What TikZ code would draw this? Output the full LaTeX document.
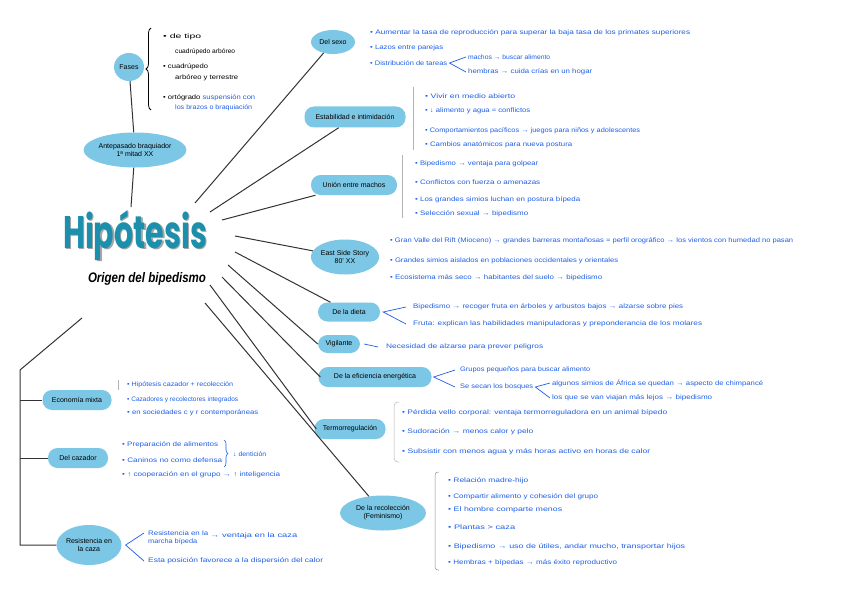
\documentclass[tikz,border=0pt]{standalone}
\usepackage{fontspec}
\setmainfont{Liberation Sans}
\newfontfamily\titlefont{Poppins}
\usepackage{graphicx}
\usetikzlibrary{shapes.geometric,decorations.pathreplacing}
\definecolor{nodeblue}{HTML}{7DC7E6}
\definecolor{txtblue}{HTML}{1F5FE6}
\definecolor{titleteal}{HTML}{1B8FAB}
\newcommand{\fitw}[2]{\resizebox{#1pt}{\height}{#2}}
\newcommand{\bul}{\textbullet\ }
\begin{document}
\begin{tikzpicture}[x=1pt,y=-1pt,
  pill/.style={fill=nodeblue, rounded corners=9.5pt, inner sep=0pt, font=\fontsize{7}{8}\selectfont, align=center},
  oval/.style={ellipse, fill=nodeblue, inner sep=0pt, font=\fontsize{7}{8}\selectfont, align=center},
  bt/.style={anchor=west, inner sep=0pt, text=txtblue, font=\fontsize{6.5}{7.5}\selectfont},
  kt/.style={anchor=west, inner sep=0pt, text=black, font=\fontsize{6.5}{7.5}\selectfont},
  link/.style={draw=black!80, line width=1pt},
  blink/.style={draw=txtblue, line width=0.7pt},
  brk/.style={draw=black!30, line width=0.5pt}]
\useasboundingbox[fill=white] (0,0) rectangle (848,599);

% ---------- title ----------
\node[text=black!35, anchor=base, inner sep=0pt] at (136.5,249.5) {\titlefont\bfseries\resizebox{144pt}{38pt}{Hipótesis}};
\node[text=titleteal, anchor=base, inner sep=0pt] (title) at (135,248) {\titlefont\bfseries\resizebox{144pt}{38pt}{Hipótesis}};
\node[anchor=base, inner sep=0pt] (subtitle) at (147,282) {\itshape\bfseries\resizebox{118pt}{10pt}{Origen del bipedismo}};

% ---------- upper left ----------
\node[oval, minimum width=30pt, minimum height=28pt] (fases) at (129,67) {Fases};
\node[oval, minimum width=96pt, minimum height=35pt] (ante) at (135,150) {Antepasado braquiador\\1ª mitad XX};
\coordinate (htop) at (131,207);
\draw[link] (fases) -- (ante);
\draw[link] (ante) -- (htop);
\coordinate (brA) at (151,110);
\coordinate (brB) at (151,28);
\draw[black, line width=0.8pt, decorate, decoration={brace, amplitude=5pt}] (brA) -- (brB);
\node[kt] (f1a) at (163,37) {\fitw{38}{\bul de tipo}};
\node[kt] (f1b) at (175,52) {\fitw{60}{cuadrúpedo arbóreo}};
\node[kt] (f2a) at (163,67) {\fitw{45}{\bul cuadrúpedo}};
\node[kt] (f2b) at (175,78) {\fitw{63}{arbóreo y terrestre}};
\node[kt] (f3a) at (163,98) {\fitw{92}{\bul ortógrado \textcolor{txtblue}{suspensión con}}};
\node[bt] (f3b) at (175,108) {\fitw{77}{los brazos o braquiación}};

% ---------- right branch nodes ----------
\node[oval, minimum width=44pt, minimum height=24pt] (sexo) at (333,42) {Del sexo};
\node[pill, minimum width=101pt, minimum height=21pt] (estab) at (355,117) {Estabilidad e intimidación};
\node[pill, minimum width=86pt, minimum height=20pt] (union) at (354,185) {Unión entre machos};
\node[oval, minimum width=64pt, minimum height=35pt] (east) at (345,257) {East Side Story\\80' XX};
\node[pill, minimum width=62pt, minimum height=19pt] (dieta) at (349,312) {De la dieta};
\node[pill, minimum width=42pt, minimum height=18pt] (vig) at (339,344) {Vigilante};
\node[pill, minimum width=113pt, minimum height=20pt] (efic) at (375,377) {De la eficiencia energética};
\node[pill, minimum width=71pt, minimum height=20pt] (termo) at (350,429) {Termorregulación};
\node[oval, minimum width=86pt, minimum height=35pt] (recol) at (383,513) {De la recolección\\(Feminismo)};

\coordinate (hsexo) at (195,203);
\coordinate (hestab) at (210,212);
\coordinate (hunion) at (222,220);
\coordinate (heast) at (235,236);
\coordinate (hdieta) at (235,252);
\coordinate (hvig) at (228,265);
\coordinate (hefic) at (222,277);
\coordinate (htermo) at (210,285);
\coordinate (hrecol) at (205,303);
\draw[link] (hsexo) -- (sexo);
\draw[link] (hestab) -- (estab);
\draw[link] (hunion) -- (union);
\draw[link] (heast) -- (east);
\draw[link] (hdieta) -- (dieta);
\draw[link] (hvig) -- (vig.west);
\draw[link] (hefic) -- ([xshift=2pt]efic.west);
\draw[link] (htermo) -- ([xshift=2pt]termo.west);
\draw[link] (hrecol) -- (recol);

% Del sexo
\node[bt] (s1) at (370,33) {\fitw{320}{\bul Aumentar la tasa de reproducción para superar la baja tasa de los primates superiores}};
\node[bt] (s2) at (370,48) {\fitw{73}{\bul Lazos entre parejas}};
\node[bt] (s3) at (370,63) {\fitw{77}{\bul Distribución de tareas}};
\node[bt] (s3a) at (468,57) {\fitw{82}{machos → buscar alimento}};
\node[bt] (s3b) at (468,72) {\fitw{124}{hembras → cuida crías en un hogar}};
\draw[blink] ([xshift=-2pt]s3a.west) -- ([xshift=2pt]s3.east) -- ([xshift=-2pt]s3b.west);

% Estabilidad
\coordinate (eb1) at (413,87); \coordinate (eb2) at (413,150);
\draw[brk] (eb1) -- (eb2);
\node[bt] (e1) at (425,96) {\fitw{90}{\bul Vivir en medio abierto}};
\node[bt] (e2) at (425,111) {\fitw{105}{\bul ↓ alimento y agua = conflictos}};
\node[bt] (e3) at (425,131) {\fitw{215}{\bul Comportamientos pacíficos → juegos para niños y adolescentes}};
\node[bt] (e4) at (425,145) {\fitw{147}{\bul Cambios anatómicos para nueva postura}};

% Union
\coordinate (ub1) at (402,155); \coordinate (ub2) at (402,218);
\draw[brk] (ub1) -- (ub2);
\node[bt] (u1) at (415,164) {\fitw{123}{\bul Bipedismo → ventaja para golpear}};
\node[bt] (u2) at (415,182) {\fitw{125}{\bul Conflictos con fuerza o amenazas}};
\node[bt] (u3) at (415,200) {\fitw{165}{\bul Los grandes simios luchan en postura bípeda}};
\node[bt] (u4) at (415,214) {\fitw{113}{\bul Selección sexual → bipedismo}};

% East side story
\node[bt] (es1) at (390,241) {\fitw{403}{\bul Gran Valle del Rift (Mioceno) → grandes barreras montañosas = perfil orográfico → los vientos con humedad no pasan}};
\node[bt] (es2) at (390,261) {\fitw{228}{\bul Grandes simios aislados en poblaciones occidentales y orientales}};
\node[bt] (es3) at (390,278) {\fitw{212}{\bul Ecosistema más seco → habitantes del suelo → bipedismo}};

% Dieta
\node[bt] (d1) at (413,307) {\fitw{270}{Bipedismo → recoger fruta en árboles y arbustos bajos → alzarse sobre pies}};
\node[bt] (d2) at (413,324) {\fitw{289}{Fruta: explican las habilidades manipuladoras y preponderancia de los molares}};
\draw[blink] ([xshift=-7pt]d1.west) -- ([xshift=3pt]dieta.east) -- ([xshift=-7pt]d2.west);

% Vigilante
\node[bt] (v1) at (386,347) {\fitw{157}{Necesidad de alzarse para prever peligros}};
\draw[blink] ([xshift=4pt]vig.east) -- ([xshift=-8pt]v1.west);

% Eficiencia
\node[bt] (ef1) at (460,370) {\fitw{130}{Grupos pequeños para buscar alimento}};
\node[bt] (ef2) at (460,387) {\fitw{73}{Se secan los bosques}};
\node[bt] (ef2a) at (552,383) {\fitw{211}{algunos simios de África se quedan → aspecto de chimpancé}};
\node[bt] (ef2b) at (552,398) {\fitw{160}{los que se van viajan más lejos → bipedismo}};
\draw[blink] ([xshift=-5pt]ef1.west) -- ([xshift=2pt]efic.east) -- ([xshift=-5pt]ef2.west);
\draw[blink] ([xshift=-2pt]ef2a.west) -- ([xshift=2pt]ef2.east) -- ([xshift=-2pt]ef2b.west);

% Termorregulacion
\coordinate (tb1) at (394,402); \coordinate (tb2) at (394,462);
\draw[brk, rounded corners=4pt] ([xshift=5pt]tb1) -- (tb1) -- (tb2) -- ([xshift=5pt]tb2);
\node[bt] (t1) at (402,413) {\fitw{265}{\bul Pérdida vello corporal: ventaja termorreguladora en un animal bípedo}};
\node[bt] (t2) at (402,432) {\fitw{131}{\bul Sudoración → menos calor y pelo}};
\node[bt] (t3) at (402,452) {\fitw{248}{\bul Subsistir con menos agua y más horas activo en horas de calor}};

% Recoleccion
\coordinate (rb1) at (435,472); \coordinate (rb2) at (435,570);
\draw[brk, draw=black!45, rounded corners=3pt] ([xshift=4pt]rb1) -- (rb1) -- (rb2) -- ([xshift=4pt]rb2);
\node[bt] (r1) at (448,481) {\fitw{80}{\bul Relación madre-hijo}};
\node[bt] (r2) at (448,497) {\fitw{150}{\bul Compartir alimento y cohesión del grupo}};
\node[bt] (r3) at (448,510) {\fitw{114}{\bul El hombre comparte menos}};
\node[bt] (r4) at (448,527) {\fitw{67}{\bul Plantas > caza}};
\node[bt] (r5) at (448,547) {\fitw{237}{\bul Bipedismo → uso de útiles, andar mucho, transportar hijos}};
\node[bt] (r6) at (448,563) {\fitw{169}{\bul Hembras + bípedas → más éxito reproductivo}};

% ---------- left branch ----------
\node[pill, minimum width=69pt, minimum height=20pt] (eco) at (77,400) {Economía mixta};
\node[pill, minimum width=60pt, minimum height=20pt] (caz) at (78,458) {Del cazador};
\node[oval, minimum width=58pt, minimum height=40pt] (resis) at (89,545) {Resistencia en\\la caza};
\coordinate (hleft) at (82,318);
\coordinate (lc) at (20,370);
\draw[link] (hleft) -- (lc) -- (lc |- resis.west) -- (resis.west);
\draw[link] (lc |- eco.west) -- (eco.west);
\draw[link] (lc |- caz.west) -- (caz.west);

% Economia mixta
\coordinate (ecb1) at (118,380); \coordinate (ecb2) at (118,390);
\draw[brk] (ecb1) -- (ecb2);
\node[bt] (ec1) at (127,385) {\fitw{106}{\bul Hipótesis cazador + recolección}};
\node[bt] (ec2) at (127,400) {\fitw{111}{\bul Cazadores y recolectores integrados}};
\node[bt] (ec3) at (127,413) {\fitw{131}{\bul en sociedades c y r contemporáneas}};

% Del cazador
\node[bt] (c1) at (122,445) {\fitw{96}{\bul Preparación de alimentos}};
\node[bt] (c2) at (122,460) {\fitw{100}{\bul Caninos no como defensa}};
\node[bt] (c3) at (122,475) {\fitw{158}{\bul ↑ cooperación en el grupo → ↑ inteligencia}};
\coordinate (cb1) at (224,440); \coordinate (cb2) at (224,467);
\draw[txtblue, line width=0.6pt, decorate, decoration={brace, amplitude=4pt}] (cb1) -- (cb2);
\node[bt] (cd) at (233,454) {\fitw{33}{↓ dentición}};

% Resistencia
\node[bt] (re1) at (148,533) {\fitw{60}{Resistencia en la}};
\node[bt] (re1b) at (210,536) {\fitw{87}{→ ventaja en la caza}};
\node[bt] (re2) at (148,542) {\fitw{49}{marcha bípeda}};
\node[bt] (re3) at (148,561) {\fitw{175}{Esta posición favorece a la dispersión del calor}};
\draw[blink] ([xshift=-4pt]re1.west) -- ([xshift=4pt]resis.east) -- ([xshift=-4pt]re3.west);
\end{tikzpicture}
\end{document}
